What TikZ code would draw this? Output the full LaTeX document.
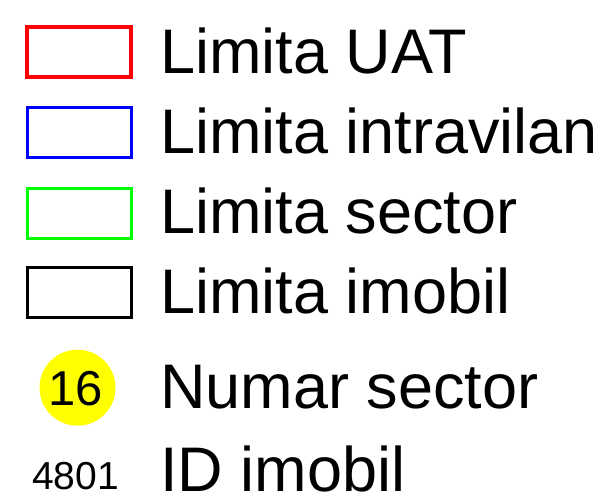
\documentclass[tikz,border=0pt]{standalone}
\usepackage{fontspec}
\setmainfont{Liberation Sans}
\definecolor{uatred}{RGB}{255,0,0}
\definecolor{intblue}{RGB}{0,0,255}
\definecolor{secgreen}{RGB}{0,255,0}
\definecolor{numyellow}{RGB}{255,255,0}
\begin{document}
\begin{tikzpicture}[x=1pt,y=-1pt,
  legbox/.style={draw, rectangle, minimum width=104pt, minimum height=50pt, inner sep=0pt},
  legtext/.style={anchor=base west, inner sep=0pt, font=\fontsize{63}{70}\selectfont},
]
\useasboundingbox (0,0) rectangle (610,502);
\node[legbox, draw=uatred, line width=4.5pt] (uat) at (79,52) {};
\node[legbox, draw=intblue, line width=3pt] (intra) at (79,133) {};
\node[legbox, draw=secgreen, line width=3pt] (sect) at (79,213.5) {};
\node[legbox, draw=black, line width=3pt] (imob) at (79,293) {};
\node[circle, fill=numyellow, minimum size=76pt, inner sep=0pt] (num) at (77.5,387.7) {};
\node[anchor=base, inner sep=0pt, font=\fontsize{49}{56}\selectfont] (numtxt) at (75.5,405) {16};
\node[anchor=base, inner sep=0pt, font=\fontsize{39}{46}\selectfont] (idtxt) at (75.5,489) {4801};
\node[legtext] (t1) at (160,73.3) {Limita UAT};
\node[legtext] (t2) at (160,153.3) {Limita intravilan};
\node[legtext] (t3) at (160,234) {Limita sector};
\node[legtext] (t4) at (160,314) {Limita imobil};
\node[legtext] (t5) at (160,408.3) {Numar sector};
\node[legtext] (t6) at (160,491.7) {ID imobil};
\end{tikzpicture}
\end{document}
